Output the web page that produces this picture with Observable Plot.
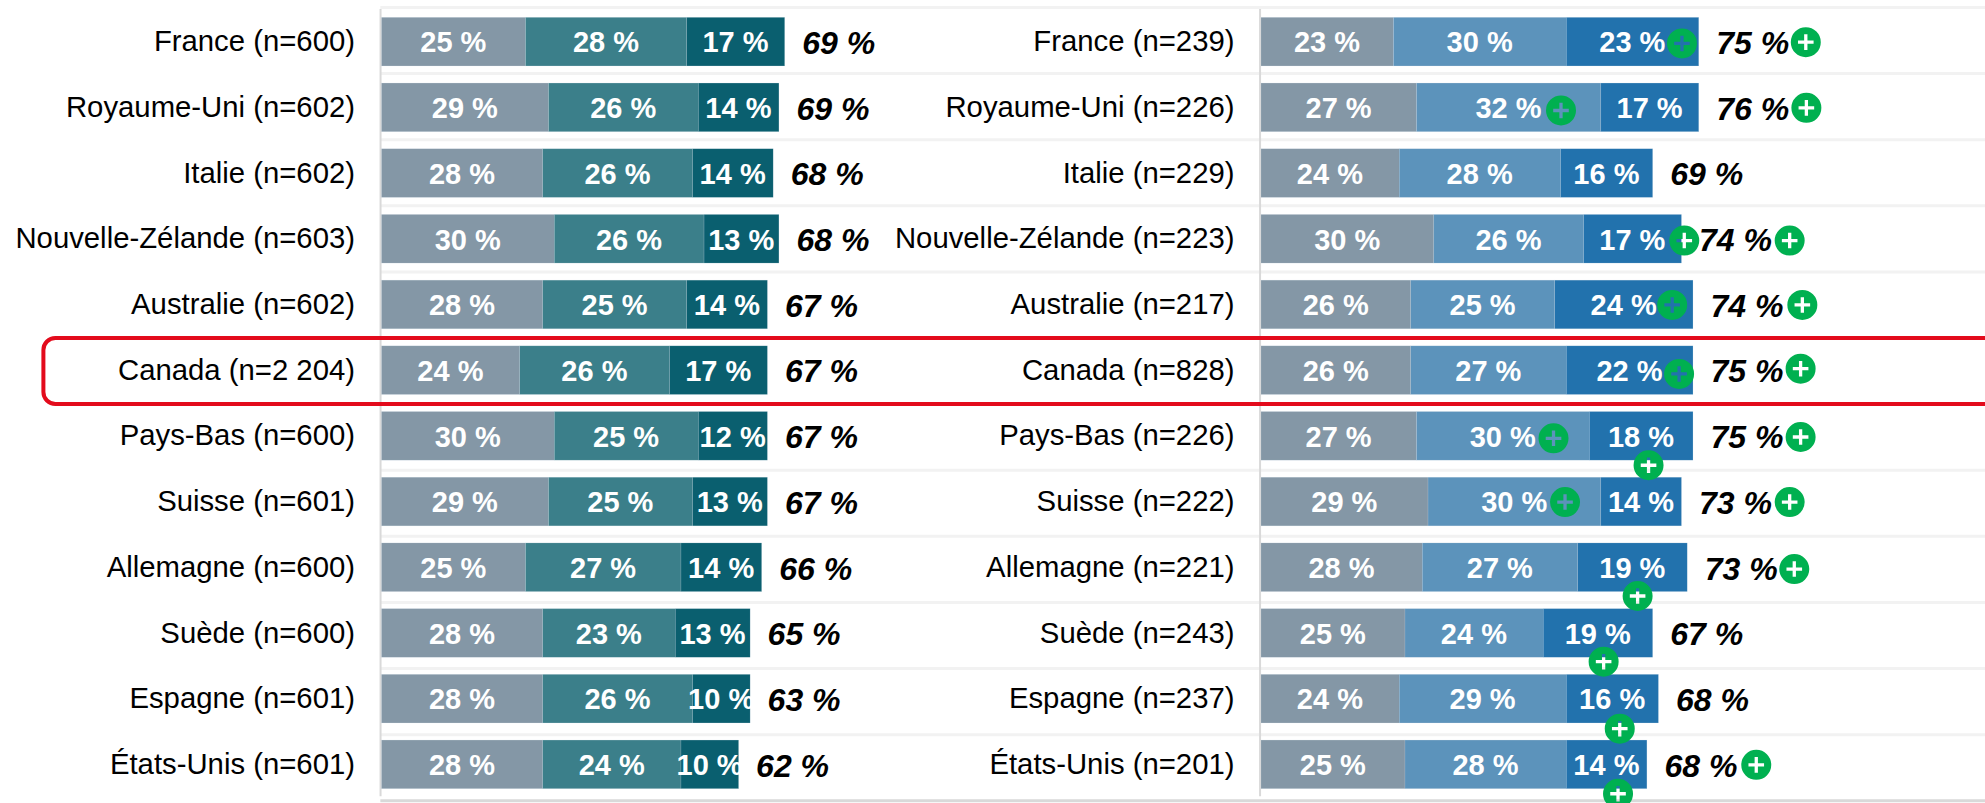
<!DOCTYPE html>
<html><head><meta charset="utf-8">
<style>html,body{margin:0;padding:0;background:#fff;overflow:hidden}svg{display:block}</style>
<script src="https://cdn.jsdelivr.net/npm/d3@7"></script>
<script src="https://cdn.jsdelivr.net/npm/@observablehq/plot@0.6"></script>
</head><body><div id="chart"></div>
<script>
const countries = ["France","Royaume-Uni","Italie","Nouvelle-Zélande","Australie","Canada","Pays-Bas","Suisse","Allemagne","Suède","Espagne","États-Unis"];
const nLeft  = ["600","602","602","603","602","2 204","600","601","600","600","601","601"];
const nRight = ["239","226","229","223","217","828","226","222","221","243","237","201"];
const left1  = [25,29,28,30,28,24,30,29,25,28,28,28];
const left2  = [28,26,26,26,25,26,25,25,27,23,26,24];
const left3  = [17,14,14,13,14,17,12,13,14,13,10,10];
const leftTotal = [69,69,68,68,67,67,67,67,66,65,63,62];
const right1 = [23,27,24,30,26,26,27,29,28,25,24,25];
const right2 = [30,32,28,26,25,27,30,30,27,24,29,28];
const right3 = [23,17,16,17,24,22,18,14,19,19,16,14];
const rightTotal = [75,76,69,74,74,75,75,73,73,67,68,68];
// significance markers: position along the % axis, and row position
const plusX = [73.0,94.5,52.0,94.6,73.4,91.7,71.3,93.9,72.5,93.6,50.7,67.2,93.6,52.7,91.7,65.3,92.5,59.4,62.2,61.9,85.9];
const plusY = [0.02,0,1.04,1,3.02,3.02,4,4,5.05,4.97,6.03,6.44,6.01,7,7,8.43,8.02,9.43,10.45,11.44,11];

const C = {a1:"#8497a6",a2:"#3b7f8a",a3:"#0a5f6f",b1:"#8497a6",b2:"#5c93bb",b3:"#2272ad"};
const barHalf = 0.37;
function panelRows(panel, s1, s2, s3, totals, ns){
  const segs = [], labels = [], tot = [];
  countries.forEach((c,i)=>{
    let x = 0;
    [s1,s2,s3].forEach((s,k)=>{
      segs.push({panel,row:i,x1:x,x2:x+s[i],v:s[i],color:C[panel+(k+1)]});
      x += s[i];
    });
    tot.push({panel,row:i,x,v:totals[i]});
    labels.push({panel,row:i,text:`${c} (n=${ns[i]})`});
  });
  return {segs,labels,tot};
}
const A = panelRows("a",left1,left2,left3,leftTotal,nLeft);
const B = panelRows("b",right1,right2,right3,rightTotal,nRight);
const segs = [...A.segs,...B.segs], labels=[...A.labels,...B.labels], totals=[...A.tot,...B.tot];
const pluses = plusX.map((x,i)=>({panel:"b",x,y:plusY[i]}));
const pct = v => `${v} %`;
const plusSymbol = { draw(ctx,size){
  const r=Math.sqrt(size/Math.PI), a=r*0.52, t=r*0.11;
  ctx.moveTo(r,0); ctx.arc(0,0,r,0,2*Math.PI); ctx.closePath();
  // plus drawn against the circle's winding, so it is a hole
  const p=[[t,-a],[-t,-a],[-t,-t],[-a,-t],[-a,t],[-t,t],[-t,a],[t,a],[t,t],[a,t],[a,-t],[t,-t]];
  ctx.moveTo(p[0][0],p[0][1]); p.slice(1).forEach(q=>ctx.lineTo(q[0],q[1])); ctx.closePath();
}};
const gridRows = d3.range(13).map(i=>-0.528+i*1.0062);
const font = "Liberation Sans, Arial, sans-serif";
const plot = Plot.plot({
  width:1985, height:803,
  marginLeft:381.5, marginRight:0, marginTop:8.8, marginBottom:5.8,
  style:{fontFamily:font, background:"#fff"},
  fx:{domain:["a","b"], paddingInner:0.1768, paddingOuter:0, align:0, round:false, axis:null},
  x:{domain:[0,125.7], axis:null, type:"linear"},
  y:{domain:[-0.5,11.5], reverse:true, axis:null, type:"linear"},
  marks:[
    Plot.ruleY(gridRows.slice(0,12).map(y=>({y,panel:"a"})),{fx:"panel",y:"y",x1:()=>-0.2,x2:()=>290,stroke:"#f2f2f2",strokeWidth:3}),
    Plot.ruleY([{y:gridRows[12],panel:"a"}],{fx:"panel",y:"y",x1:()=>-0.2,x2:()=>290,stroke:"#d9d9d9",strokeWidth:3}),
    Plot.ruleX([{panel:"a"},{panel:"b"}],{fx:"panel",x:()=>-0.25,y1:()=>-0.496,y2:()=>11.486,stroke:"#d9d9d9",strokeWidth:2}),
    Plot.rect(segs,{fx:"panel",x1:"x1",x2:"x2",y1:d=>d.row-barHalf,y2:d=>d.row+barHalf,fill:"color",stroke:"#cfdde8",strokeWidth:0.5,strokeOpacity:0.35}),
    Plot.text(segs,{fx:"panel",x:d=>(d.x1+d.x2)/2,y:"row",text:d=>pct(d.v),fill:"#fff",fontWeight:"bold",fontSize:29,dx:-0.7,dy:1}),
    Plot.text(labels,{fx:"panel",x:()=>0,y:"row",text:"text",textAnchor:"end",dx:-27,dy:-0.3,fill:"#000",fontSize:29.3}),
    Plot.text(totals,{fx:"panel",x:"x",y:"row",text:d=>pct(d.v),textAnchor:"start",dx:17,dy:1.5,fill:"#000",fontWeight:"bold",fontStyle:"italic",fontSize:32}),
    Plot.dot(pluses,{fx:"panel",x:"x",y:"y",r:15,fill:"#00b050",stroke:"none",symbol:plusSymbol}),
    Plot.rect([{panel:"a"}],{fx:"panel",x1:()=>-58.7,x2:()=>300,y1:()=>4.51,y2:()=>5.515,fill:"none",stroke:"#e30b1c",strokeWidth:4,rx:12})
  ]
});
document.getElementById("chart").append(plot);
</script></body></html>
